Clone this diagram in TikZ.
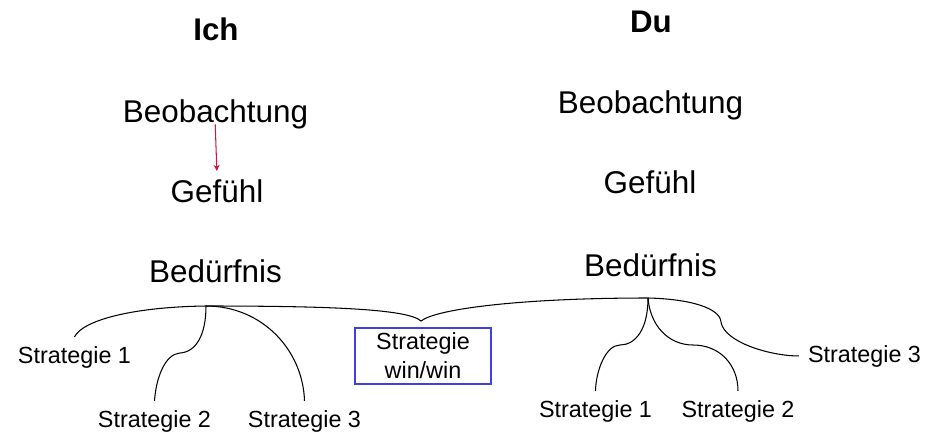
\documentclass[tikz,border=0pt]{standalone}
\usepackage{fontspec}
\setmainfont{Liberation Sans}
\usetikzlibrary{arrows.meta}

\definecolor{winblue}{RGB}{64,64,224}
\definecolor{arrowred}{RGB}{204,24,60}

\begin{document}
\begin{tikzpicture}[
    x=0.02cm, y=-0.02cm,
    title/.style={font=\fontsize{17.8}{21}\selectfont\bfseries, anchor=base, inner sep=2pt},
    stage/.style={font=\fontsize{17.9}{21}\selectfont, anchor=base, inner sep=2pt},
    strat/.style={font=\fontsize{13.3}{16.5}\selectfont, anchor=base, inner sep=5pt},
    winbox/.style={draw=winblue, line width=1.2pt, align=center,
                   font=\fontsize{13.3}{16.5}\selectfont,
                   minimum width=2.72cm, minimum height=1.12cm, inner sep=0pt},
    branch/.style={line width=0.6pt, black},
    arrow/.style={-{Stealth[length=3.5pt, width=3.5pt]}, arrowred, line width=0.6pt},
]
    \useasboundingbox (0,0) rectangle (929,436);

    % --- Ich ---
    \node[title] (ich)  at (216,40)    {Ich};
    \node[stage] (beoI) at (215.5,122) {Beobachtung};
    \node[stage] (gefI) at (217,202)   {Gefühl};
    \node[stage] (bedI) at (215.5,282) {Bedürfnis};

    \draw[arrow, shorten <=-4.5pt, shorten >=2.5pt] (beoI.south) -- (gefI.north);

    % --- Du ---
    \node[title] (du)   at (651,32)    {Du};
    \node[stage] (beoD) at (650.5,113) {Beobachtung};
    \node[stage] (gefD) at (650,193)   {Gefühl};
    \node[stage] (bedD) at (650.5,276) {Bedürfnis};

    % --- Strategien ---
    \node[strat] (s1I) at (74.5,363)  {Strategie 1};
    \node[strat] (s2I) at (154.5,427) {Strategie 2};
    \node[strat] (s3I) at (304.5,427) {Strategie 3};
    \node[strat] (s1D) at (595.5,417) {Strategie 1};
    \node[strat] (s2D) at (738,417)   {Strategie 2};
    \node[strat] (s3D) at (864.5,362) {Strategie 3};
    \node[winbox] (win) at (423,356)  {Strategie\\win/win};

    % branch points
    \coordinate (jI)  at (206,306);
    \coordinate (jD)  at (648,298);
    \coordinate (tip) at (421,321);

    % Ich -> Strategien
    \draw[branch] (s1I.north) .. controls (82,321) and (130,307) .. (jI);
    \draw[branch] (jI) .. controls (206,335) and (196,352) .. (180,353)
                       .. controls (165,354) and (156,378) .. (s2I.north);
    \draw[branch] (jI) .. controls (262,306) and (303,350) .. (s3I.north);

    % brace over win/win
    \draw[branch] (jI) .. controls (330,306) and (408,309) .. (tip)
                       .. controls (436,309) and (520,298) .. (jD);

    % Du -> Strategien
    \draw[branch] (jD) .. controls (648,330) and (635,345) .. (620,345)
                       .. controls (606,345) and (596,370) .. (s1D.north);
    \draw[branch] (jD) .. controls (650,325) and (668,345) .. (693,345)
                       .. controls (720,345) and (738,365) .. (s2D.north);
    \draw[branch] (jD) .. controls (690,299) and (720,308) .. (721,322)
                       .. controls (724,342) and (770,356) .. (s3D.west);
\end{tikzpicture}
\end{document}
